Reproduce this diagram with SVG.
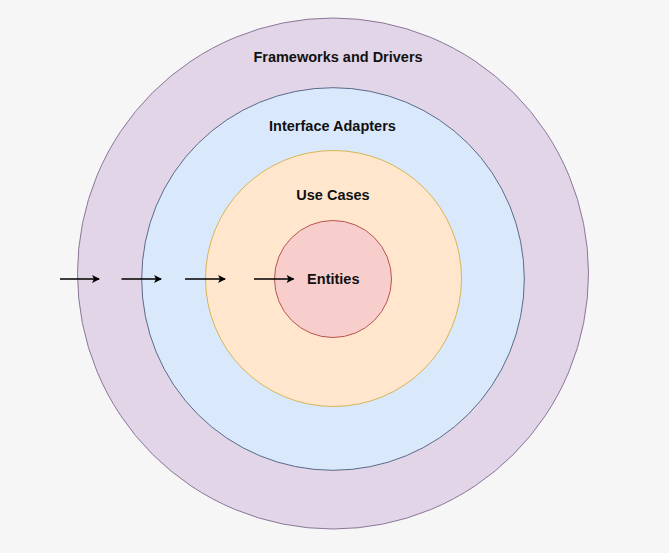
<svg xmlns="http://www.w3.org/2000/svg" width="669" height="553" viewBox="0 0 669 553">
<defs>
<style>
.lbl{font-family:"Liberation Sans",Arial,Helvetica,sans-serif;font-weight:bold;font-size:14.5px;fill:#111;text-anchor:middle}
.ring{stroke-width:1}
.arr{stroke:#000;stroke-width:1.4;fill:none;marker-end:url(#ah)}
</style>
<marker id="ah" markerWidth="10" markerHeight="10" refX="8" refY="5" orient="auto" markerUnits="userSpaceOnUse">
<path d="M1,1 L9,5 L1,9 L3,5 Z" fill="#000"/>
</marker>
</defs>
<rect width="669" height="553" fill="#f6f6f6"/>
<g id="frameworks">
<ellipse class="ring" cx="333" cy="273.5" rx="255.5" ry="255.5" fill="#e1d5e7" stroke="#8b7799"/>
<text class="lbl" x="338" y="62">Frameworks and Drivers</text>
</g>
<g id="adapters">
<circle class="ring" cx="333" cy="279" r="191.3" fill="#dae8fc" stroke="#5a6a88"/>
<text class="lbl" x="332.5" y="131">Interface Adapters</text>
</g>
<g id="usecases">
<circle class="ring" cx="333.5" cy="278.5" r="128" fill="#ffe6cc" stroke="#d6b656"/>
<text class="lbl" x="333" y="199.5">Use Cases</text>
</g>
<g id="entities">
<circle class="ring" cx="333" cy="279" r="58.5" fill="#f8cecc" stroke="#b85450"/>
<text class="lbl" x="333.3" y="283.5">Entities</text>
</g>
<g id="connectors">
<line class="arr" x1="60" y1="279" x2="99" y2="279"/>
<line class="arr" x1="121.5" y1="279" x2="161" y2="279"/>
<line class="arr" x1="185" y1="279" x2="225" y2="279"/>
<line class="arr" x1="254" y1="279" x2="293.5" y2="279"/>
</g>
</svg>
